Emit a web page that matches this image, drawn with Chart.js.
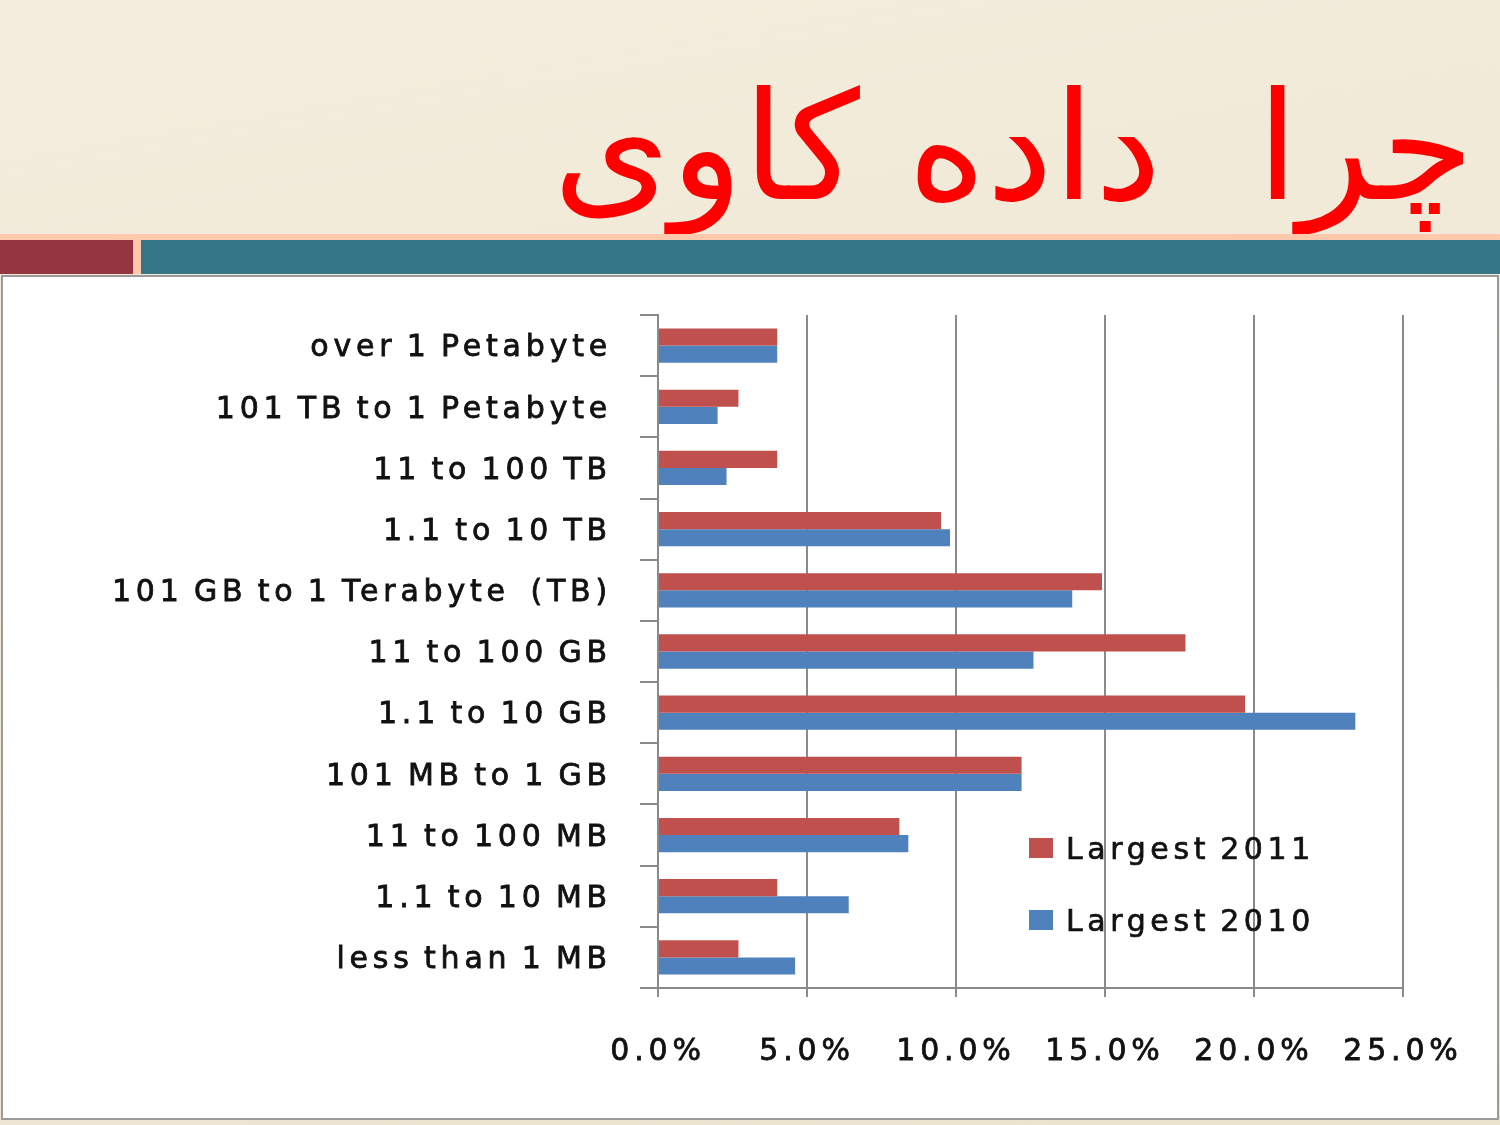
<!DOCTYPE html>
<html>
<head>
<meta charset="utf-8">
<script src="https://cdn.jsdelivr.net/npm/chart.js@4/dist/chart.umd.min.js"></script>
<style>
  html, body { margin:0; padding:0; }
  body { width:1500px; height:1125px; position:relative; overflow:hidden;
         background: linear-gradient(170deg, #f4eddd 0%, #f1e9d7 40%, #ece3cf 100%); font-family:"DejaVu Sans", sans-serif; }
  #title { position:absolute; right:26px; top:72px; font-family:"DejaVu Sans", sans-serif; font-size:150px;
           color:#ff0000; direction:rtl; line-height:1; white-space:pre; }
  #peach { position:absolute; left:0; top:234px; width:1500px; height:8px; background:#fec8ad; }
  #maroon { position:absolute; left:0; top:240px; width:133px; height:34px; background:#943640; }
  #gap { position:absolute; left:133px; top:240px; width:8px; height:34px; background:#fec8ad; }
  #teal { position:absolute; left:141px; top:240px; width:1359px; height:34px; background:#347887; }
  #panel { position:absolute; left:1px; top:275px; width:1494px; height:841px; background:#ffffff;
           border:2px solid #9a9a9a; }
  #wrap { position:absolute; left:0; top:0; width:1500px; height:1125px; }
  .leg { position:absolute; left:1029px; font-size:30px; color:#111; line-height:1; white-space:nowrap;
         letter-spacing:4.6px; word-spacing:-4px; -webkit-text-stroke:0.7px #111; }
  .leg span { display:inline-block; width:24px; height:20px; margin-right:13px; vertical-align:middle; position:relative; top:-3px; -webkit-text-stroke:0; }
</style>
</head>
<body>
<div id="title">چرا  داده کاوی</div>
<div id="peach"></div>
<div id="maroon"></div>
<div id="gap"></div>
<div id="teal"></div>
<div id="panel"></div>
<div id="wrap"><canvas id="c" width="1500" height="1125"></canvas></div>
<div id="legend"></div>
<script>
const categories = [
  "over 1 Petabyte",
  "101 TB to 1 Petabyte",
  "11 to 100 TB",
  "1.1 to 10 TB",
  "101 GB to 1 Terabyte  (TB)",
  "11 to 100 GB",
  "1.1 to 10 GB",
  "101 MB to 1 GB",
  "11 to 100 MB",
  "1.1 to 10 MB",
  "less than 1 MB"
];
const largest2011 = [4.0, 2.7, 4.0, 9.5, 14.9, 17.7, 19.7, 12.2, 8.1, 4.0, 2.7];
const largest2010 = [4.0, 2.0, 2.3, 9.8, 13.9, 12.6, 23.4, 12.2, 8.4, 6.4, 4.6];
const seriesLabels = ["Largest 2011", "Largest 2010"];
const seriesColors = ["#c0504d", "#4f81bd"];

const grid = '#8a8a8a';
const font = { family: '"DejaVu Sans", sans-serif', size: 30 };

const spacing = {
  id: 'spacing',
  beforeDraw(chart) { chart.ctx.letterSpacing = '4.8px'; chart.ctx.wordSpacing = '-4px'; },
  afterDraw(chart) { chart.ctx.letterSpacing = '0px'; chart.ctx.wordSpacing = '0px'; }
};

new Chart(document.getElementById('c'), {
  type: 'bar',
  data: {
    labels: categories,
    datasets: [
      { label: seriesLabels[0], data: largest2011, backgroundColor: seriesColors[0] },
      { label: seriesLabels[1], data: largest2010, backgroundColor: seriesColors[1] }
    ]
  },
  plugins: [spacing],
  options: {
    indexAxis: 'y',
    responsive: false,
    animation: false,
    devicePixelRatio: 1,
    categoryPercentage: 0.56,
    barPercentage: 1.0,
    layout: { padding: { left: 0, top: 315, right: 97, bottom: 37 } },
    plugins: { legend: { display: false }, tooltip: { enabled: false } },
    scales: {
      x: {
        min: 0, max: 25,
        ticks: { stepSize: 5, color: '#111', font: font, padding: 37,
                 textStrokeColor: '#111', textStrokeWidth: 0.8,
                 callback: v => v.toFixed(1) + '%' },
        grid: { color: grid, lineWidth: 2, tickLength: 9, drawOnChartArea: true },
        border: { color: grid, width: 2 },
        afterFit: s => { s.height = 100; }
      },
      y: {
        ticks: { color: '#111', font: font, padding: 28, labelOffset: 3,
                 textStrokeColor: '#111', textStrokeWidth: 0.8 },
        grid: { color: grid, lineWidth: 2, tickLength: 18, offset: true, drawOnChartArea: false },
        border: { color: grid, width: 2 },
        afterFit: s => { s.width = 658; }
      }
    }
  }
});

const legend = document.getElementById('legend');
const legTops = [834, 906];
seriesLabels.forEach((l, i) => {
  const d = document.createElement('div');
  d.className = 'leg';
  d.style.top = legTops[i] + 'px';
  d.innerHTML = '<span style="background:' + seriesColors[i] + '"></span>' + l;
  legend.appendChild(d);
});
</script>
</body>
</html>
